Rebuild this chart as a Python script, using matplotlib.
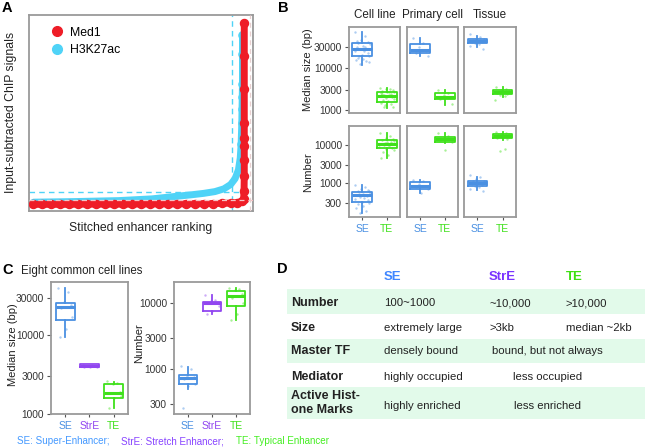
import matplotlib.pyplot as plt
from matplotlib.lines import Line2D
from matplotlib.patches import Rectangle
from matplotlib.ticker import NullLocator

plt.rcParams['font.family'] = ['Liberation Sans', 'DejaVu Sans']

# ---- colours ----
RED = '#ee1d27'
CYAN = '#4fd3f7'
SE_C = '#4a90e2'
STRE_C = '#9146f0'
TE_C = '#3fe01a'
FRAME = '#9a9a9a'
TXT = '#222222'

# ---- panel A: hockey-stick curves (rank %, signal %) ----
med1_rank = [2, 6, 10, 14, 18, 22, 26, 30, 34, 38, 42, 46, 50, 54, 58, 62, 66,
             70, 74, 78, 82, 86, 90, 93, 95, 95.8, 96.0, 96.1, 96.1, 96.1, 96.1,
             96.1, 96.1, 96.1, 96.1]
med1_signal = [3.4, 3.4, 3.4, 3.4, 3.4, 3.5, 3.5, 3.5, 3.5, 3.5, 3.5, 3.5, 3.6,
               3.6, 3.6, 3.6, 3.6, 3.7, 3.7, 3.7, 3.8, 3.9, 4.0, 4.3, 4.9, 6.0,
               10, 18, 26, 33, 37, 45, 62, 79, 96]
h3k_rank = [2, 20, 40, 55, 65, 72, 78, 83, 87, 90, 92, 93.5, 94.3, 94.7, 95.0,
            95.1, 95.2, 95.3, 95.3, 95.3]
h3k_signal = [4.5, 4.8, 5.3, 6.2, 7.4, 8.2, 9.0, 9.9, 11.3, 13.5, 16.5, 21, 27,
              34, 45, 52, 58, 65, 80, 90]
h3k_cut_rank, h3k_cut_signal = 90.6, 9.7
med1_cut_rank, med1_cut_signal = 98.6, 5.5

# ---- panel B: five-number summaries [whislo, q1, med, q3, whishi] ----
b_groups = ['Cell line', 'Primary cell', 'Tissue']
size_se = [[11500, 18800, 27000, 38600, 70300],
           [18800, 21700, 26000, 36000, 49100],
           [31100, 37400, 42400, 47300, 55600]]
size_te = [[1130, 1570, 2140, 2700, 3250],
           [1310, 1790, 2060, 2480, 2960],
           [2060, 2345, 2658, 2963, 3430]]
num_se = [[157, 319, 481, 588, 885],
          [533, 693, 848, 1083, 1200],
          [652, 832, 982, 1130, 1416]]
num_te = [[4520, 8320, 10820, 13830, 20800],
          [11300, 12460, 14430, 16900, 20800],
          [13830, 15900, 17650, 19950, 22950]]

size_se_pts = [[70000, 55000, 45000, 40000, 38000, 36000, 33000, 30000, 28000,
                27000, 25000, 24000, 22000, 20000, 19000, 17000, 16000, 15000,
                14000, 12000, 13500, 18500, 31000, 42000],
               [50000, 38000, 30000, 25000, 22000, 19000],
               [60000, 52000, 48000, 46000, 44000, 43000, 42000, 41000, 40000,
                38000, 36000, 33000, 27000]]
size_te_pts = [[3300, 3200, 3100, 2900, 2800, 2700, 2600, 2500, 2400, 2300,
                2200, 2100, 2000, 1900, 1800, 1700, 1600, 1500, 1400, 1300,
                1200, 1150, 2650, 2350],
               [2950, 2500, 2200, 2000, 1800, 1350],
               [3400, 3100, 2900, 2800, 2700, 2650, 2600, 2500, 2400, 2300,
                2100, 1700]]
num_se_pts = [[900, 800, 700, 650, 600, 550, 500, 480, 450, 420, 400, 380, 350,
               320, 300, 280, 250, 220, 180, 160, 600, 520],
              [1200, 1100, 950, 850, 800, 700, 550],
              [1600, 1400, 1250, 1150, 1100, 1050, 1000, 950, 900, 850, 800,
               700, 620]]
num_te_pts = [[21000, 18000, 16000, 15000, 14000, 13000, 12000, 11000, 10500,
               10000, 9500, 9000, 8500, 8000, 7500, 6500, 5500, 4500, 12500,
               11500],
              [21000, 17500, 16000, 15000, 14000, 12000, 7500],
              [23000, 21000, 20000, 19500, 19000, 18000, 17000, 16000, 15000,
               7000, 8000]]

# ---- panel C: eight common cell lines ----
c_cats = ['SE', 'StrE', 'TE']
c_size = [[9520, 15490, 22800, 25630, 39700],
          [3900, 3950, 4100, 4250, 4300],
          [1180, 1580, 1862, 2400, 2565]]
c_num = [[506, 601, 733, 820, 1094],
         [6760, 7590, 10000, 10350, 13060],
         [5500, 9020, 12600, 15140, 16800]]
c_size_pts = [[40000, 35000, 26000, 24000, 22000, 17000, 12000, 9500],
              [4200, 4150, 4100, 4080, 4050, 4000, 3980, 3950],
              [2600, 2500, 2400, 1900, 1850, 1700, 1600, 1200]]
c_num_pts = [[1100, 1000, 800, 750, 700, 600, 550, 260],
             [13000, 11000, 10500, 10000, 9800, 9000, 7500, 6800],
             [16800, 16000, 15500, 13500, 12000, 10000, 6800, 5500]]

# ---- panel D: summary table ----
d_cols = ['SE', 'StrE', 'TE']
d_rows = ['Number', 'Size', 'Master TF', 'Mediator', 'Active Hist-\none Marks']
d_number = ['100~1000', '~10,000', '>10,000']
d_size = ['extremely large', '>3kb', 'median ~2kb']
d_master = ['densely bound', 'bound, but not always']
d_mediator = ['highly occupied', 'less occupied']
d_active = ['highly enriched', 'less enriched']

JIT = [-0.28, 0.12, -0.05, 0.25, -0.18, 0.3, 0.02, -0.22, 0.18, -0.1, 0.08,
       -0.3, 0.22, -0.02, 0.28, -0.15, 0.05, -0.25, 0.15, -0.08, 0.26, -0.12,
       0.1, -0.2]

W, H = 647, 448
fig = plt.figure(figsize=(W / 100, H / 100), dpi=100)

# overlay in pixel coordinates for labels and the table
ov = fig.add_axes([0, 0, 1, 1])
ov.set_xlim(0, W)
ov.set_ylim(H, 0)
ov.axis('off')


def px_axes(x0, y0, x1, y1):
    return fig.add_axes([x0 / W, 1 - y1 / H, (x1 - x0) / W, (y1 - y0) / H])


def frame(ax):
    for s in ax.spines.values():
        s.set_color(FRAME)
        s.set_linewidth(1.3)


def draw_box(ax, s, pos, color, pts):
    st = [dict(whislo=s[0], q1=s[1], med=s[2], q3=s[3], whishi=s[4], fliers=[])]
    ax.bxp(st, positions=[pos], widths=0.78, showcaps=False, showfliers=False,
           boxprops=dict(color=color, lw=1.3),
           whiskerprops=dict(color=color, lw=1.3),
           medianprops=dict(color=color, lw=2.2))
    xs = [pos + JIT[i % len(JIT)] for i in range(len(pts))]
    ax.scatter(xs, pts, s=3, color=color, alpha=0.45, lw=0, zorder=3)


def log_axis(ax, lim, ticks, show_labels=True):
    ax.set_yscale('log')
    ax.set_ylim(*lim)
    ax.yaxis.set_minor_locator(NullLocator())
    ax.set_yticks(ticks)
    if show_labels:
        ax.set_yticklabels([str(t) for t in ticks])
        ax.tick_params(axis='y', length=3, width=0.8, color='#555555',
                       labelsize=7.3, labelcolor='#333333', pad=2)
    else:
        ax.set_yticklabels([])
        ax.tick_params(axis='y', length=0)


# ---------------- panel A ----------------
axA = px_axes(29, 15, 253, 211)
axA.set_xlim(0, 100)
axA.set_ylim(0, 100)
axA.set_xticks([])
axA.set_yticks([])
frame(axA)
axA.axhline(h3k_cut_signal, color=CYAN, lw=1, ls=(0, (4, 3)), zorder=1)
axA.axvline(h3k_cut_rank, color=CYAN, lw=1, ls=(0, (4, 3)), zorder=1)
axA.plot(h3k_rank, h3k_signal, color=CYAN, lw=5, solid_capstyle='round', zorder=2)
top_c = [i for i, v in enumerate(h3k_signal) if v > 30]
axA.scatter([h3k_rank[i] for i in top_c], [h3k_signal[i] for i in top_c],
            s=38, color=CYAN, lw=0, zorder=2)
axA.plot(med1_rank, med1_signal, color=RED, lw=5, marker='o', ms=5.8,
         solid_capstyle='round', zorder=3)
axA.axhline(med1_cut_signal, color='#f6c2c4', lw=0.9, ls=(0, (4, 3)), zorder=4)
axA.axvline(med1_cut_rank, color='#e8d0d0', lw=0.9, ls=(0, (4, 3)), zorder=4)
handles = [Line2D([], [], marker='o', ls='', color=RED, ms=7, label='Med1'),
           Line2D([], [], marker='o', ls='', color=CYAN, ms=7, label='H3K27ac')]
axA.legend(handles=handles, loc='upper left', bbox_to_anchor=(0.075, 0.965),
           frameon=False, fontsize=8.8, handletextpad=0.6, labelspacing=0.45,
           handlelength=1.0, borderaxespad=0)
ov.text(141, 228, 'Stitched enhancer ranking', fontsize=8.8, color=TXT,
        ha='center', va='center')
ov.text(11, 112, 'Input-subtracted ChIP signals', fontsize=8.8, color=TXT,
        ha='center', va='center', rotation=90)

# ---------------- panel B ----------------
cols_x = [(349, 400), (407, 458), (464, 516)]
rows_y = [(27, 113), (126, 217)]
row_defs = [(size_se, size_te, size_se_pts, size_te_pts, (850, 90000),
             [1000, 3000, 10000, 30000]),
            (num_se, num_te, num_se_pts, num_te_pts, (125, 32500),
             [300, 1000, 3000, 10000])]
for r, (se, te, se_p, te_p, lim, ticks) in enumerate(row_defs):
    for c in range(3):
        ax = px_axes(cols_x[c][0], rows_y[r][0], cols_x[c][1], rows_y[r][1])
        frame(ax)
        draw_box(ax, se[c], 1, SE_C, se_p[c])
        draw_box(ax, te[c], 2, TE_C, te_p[c])
        ax.set_xlim(0.47, 2.53)
        log_axis(ax, lim, ticks, show_labels=(c == 0))
        ax.set_xticks([1, 2])
        if r == 1:
            ax.set_xticklabels(['SE', 'TE'])
            ax.tick_params(axis='x', length=2, color='#555555', labelsize=7.5, pad=3)
            for lab, col in zip(ax.get_xticklabels(), [SE_C, TE_C]):
                lab.set_color(col)
        else:
            ax.set_xticklabels([])
            ax.tick_params(axis='x', length=0)
        if r == 0:
            ov.text(sum(cols_x[c]) / 2, 15, b_groups[c], fontsize=8.4,
                    color=TXT, ha='center', va='center')
ov.text(308, 70, 'Median size (bp)', fontsize=8, color=TXT, ha='center',
        va='center', rotation=90)
ov.text(308, 172, 'Number', fontsize=8, color=TXT, ha='center', va='center',
        rotation=90)

# ---------------- panel C ----------------
c_colors = [SE_C, STRE_C, TE_C]
c_defs = [((51, 128), c_size, c_size_pts, (1000, 47300),
           [1000, 3000, 10000, 30000]),
          ((174, 250), c_num, c_num_pts, (211, 20650),
           [300, 1000, 3000, 10000])]
for (x0, x1), stats, pts, lim, ticks in c_defs:
    ax = px_axes(x0, 282, x1, 414)
    frame(ax)
    for i in range(3):
        draw_box(ax, stats[i], i + 1, c_colors[i], pts[i])
    ax.set_xlim(0.42, 3.58)
    log_axis(ax, lim, ticks)
    ax.set_xticks([1, 2, 3])
    ax.set_xticklabels(c_cats)
    ax.tick_params(axis='x', length=2, color='#555555', labelsize=7.5, pad=3)
    for lab, col in zip(ax.get_xticklabels(), c_colors):
        lab.set_color(col)
ov.text(21, 271, 'Eight common cell lines', fontsize=8.3, color=TXT,
        ha='left', va='center')
ov.text(13, 345, 'Median size (bp)', fontsize=8, color=TXT, ha='center',
        va='center', rotation=90)
ov.text(139, 343, 'Number', fontsize=8, color=TXT, ha='center', va='center',
        rotation=90)
ov.text(17, 441, 'SE: Super-Enhancer;', fontsize=7.1, color='#4499ff',
        ha='left', va='center')
ov.text(121, 441, 'StrE: Stretch Enhancer;', fontsize=7.1, color='#8844ff',
        ha='left', va='center')
ov.text(236, 441, 'TE: Typical Enhancer', fontsize=7.1, color='#44ee22',
        ha='left', va='center')

# ---------------- panel D ----------------
band = '#e2faea'
for y0, y1 in [(289, 314), (339, 363), (387, 419)]:
    ov.add_patch(Rectangle((287, y0), 358, y1 - y0, color=band, lw=0, zorder=0))
head_x = [384, 489, 566]
head_c = ['#3f86ff', '#7a33ff', '#3ee012']
for x, t, col in zip(head_x, d_cols, head_c):
    ov.text(x, 277, t, fontsize=9.5, fontweight='bold', color=col,
            ha='left', va='center')
row_y = [303.5, 328.3, 351.5, 376.7, 403]
for y, t in zip(row_y, d_rows):
    ov.text(291, y, t, fontsize=9, fontweight='bold', color=TXT, ha='left',
            va='center', linespacing=1.3)
vfs = 8.2
for x, t in zip(head_x, d_number):
    ov.text(x, row_y[0], t, fontsize=vfs, color=TXT, ha='left', va='center')
for x, t in zip(head_x, d_size):
    ov.text(x, row_y[1], t, fontsize=vfs, color=TXT, ha='left', va='center')
ov.text(384, row_y[2], d_master[0], fontsize=vfs, color=TXT, ha='left', va='center')
ov.text(492, row_y[2], d_master[1], fontsize=vfs, color=TXT, ha='left', va='center')
ov.text(384, row_y[3], d_mediator[0], fontsize=vfs, color=TXT, ha='left', va='center')
ov.text(513, row_y[3], d_mediator[1], fontsize=vfs, color=TXT, ha='left', va='center')
ov.text(384, 406, d_active[0], fontsize=vfs, color=TXT, ha='left', va='center')
ov.text(514, 406, d_active[1], fontsize=vfs, color=TXT, ha='left', va='center')

# ---------------- panel letters ----------------
for x, y, t in [(2, 8, 'A'), (278, 8, 'B'), (2, 270, 'C'), (277, 269, 'D')]:
    ov.text(x, y, t, fontsize=10.5, fontweight='bold', color='black',
            ha='left', va='center')

fig.savefig('out.png', dpi=100)
